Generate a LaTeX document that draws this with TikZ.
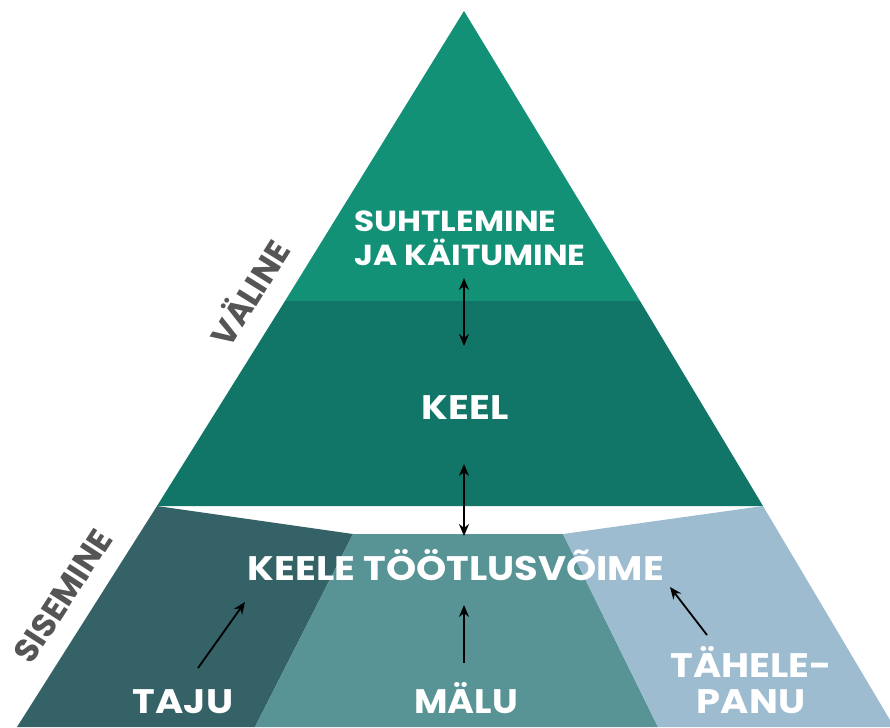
\documentclass[tikz,border=0pt]{standalone}
\usepackage{fontspec}
\setmainfont{Poppins}[BoldFont={* Bold}]
\usetikzlibrary{arrows.meta}
\definecolor{ctop}{RGB}{18,145,118}
\definecolor{ckeel}{RGB}{17,117,104}
\definecolor{ctaju}{RGB}{52,98,103}
\definecolor{cmalu}{RGB}{88,148,150}
\definecolor{ctahe}{RGB}{157,188,207}
\definecolor{cside}{RGB}{85,85,85}
\tikzset{
  lbl/.style={text=white, font=\bfseries\fontsize{34}{36}\selectfont, inner sep=0pt, transform shape, xscale=1.13},
  side/.style={text=cside, font=\bfseries\fontsize{33}{35}\selectfont, inner sep=0pt},
  arr/.style={line width=1.8pt, -{Stealth[length=12pt,width=10pt]}},
  darr/.style={line width=1.8pt, {Stealth[length=12pt,width=10pt]}-{Stealth[length=12pt,width=10pt]}},
}
\begin{document}
\begin{tikzpicture}[x=1pt,y=-1pt]
\useasboundingbox (0,0) rectangle (890,727);
% pyramid top
\fill[ctop] (464,11) -- (640,301) -- (285,301) -- cycle;
\fill[ckeel] (285,301) -- (640,301) -- (763,506) -- (157,506) -- cycle;
% lower parts
\fill[ctaju] (157,506) -- (353,534) -- (255,727) -- (17,727) -- cycle;
\fill[cmalu] (353,534) -- (563,534) -- (658,727) -- (255,727) -- cycle;
\fill[ctahe] (563,534) -- (763,506) -- (890,720) -- (890,727) -- (658,727) -- cycle;
% labels
\node[lbl, font=\bfseries\fontsize{29}{34}\selectfont, align=left] (suht) at (470,238) {SUHTLEMINE\\JA KÄITUMINE};
\node[lbl, anchor=base] (keel) at (465,419) {KEEL};
\node[lbl, anchor=base] (ktv) at (456,580) {KEELE TÖÖTLUSVÕIME};
\node[lbl, anchor=base] (taju) at (183,713) {TAJU};
\node[lbl, anchor=base, xscale=0.95] (malu) at (466,713) {MÄLU};
\node[lbl, anchor=base] (tahe) at (751,677) {TÄHELE-};
\node[lbl, anchor=base] (panu) at (751,713) {PANU};
\node[side, rotate=58] (valine) at (248,292) {VÄLINE};
\node[side, rotate=57] (sisemine) at (63,596) {SISEMINE};
% arrow anchors
\coordinate (a1) at (464,278);
\coordinate (a2) at (464,346);
\coordinate (b1) at (464,464);
\coordinate (b2) at (464,536);
\coordinate (m1) at (464,663);
\coordinate (m2) at (464,605);
\coordinate (t1) at (198,668);
\coordinate (t2) at (245,602);
\coordinate (h1) at (707,635);
\coordinate (h2) at (670,587);
\draw[darr] (a1) -- (a2);
\draw[darr] (b1) -- (b2);
\draw[arr] (m1) -- (m2);
\draw[arr] (t1) -- (t2);
\draw[arr] (h1) -- (h2);
\end{tikzpicture}
\end{document}
